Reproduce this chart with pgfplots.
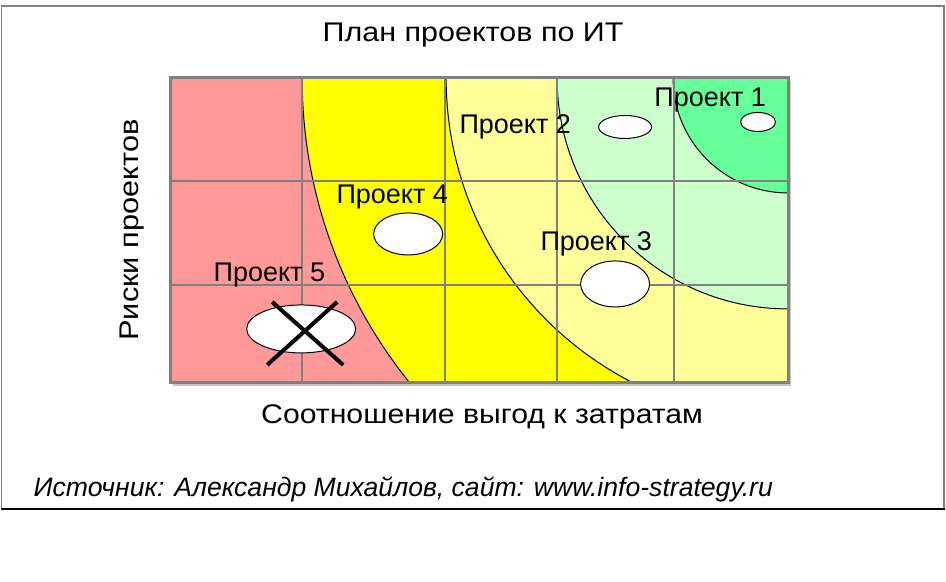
\documentclass[border=0pt]{standalone}
\usepackage{fontspec}
\setmainfont{Liberation Sans}
\usepackage{pgfplots}
\usepackage{pgfplotstable}
\pgfplotsset{compat=1.18}

\definecolor{zred}{HTML}{FF9999}
\definecolor{zyellow}{HTML}{FFFF00}
\definecolor{zlyellow}{HTML}{FFFF99}
\definecolor{zlgreen}{HTML}{CCFFCC}
\definecolor{zgreen}{HTML}{66FF99}
\definecolor{gridgray}{HTML}{808080}

% projects: centre, width and height of each oval (units = pixels of the original)
\pgfplotstableread{
x   y   w   h
758 122 35  19
625 127 53  23
615 284 69  46
408 234 69  42
301 329 109 48
}\projects

\pgfdeclareplotmark{oval}{%
  \pgfpathellipse{\pgfpointorigin}{\pgfqpoint{\ovalw pt}{0pt}}{\pgfqpoint{0pt}{\ovalh pt}}%
  \pgfusepathqfillstroke}

\newcommand{\lbl}{\fontsize{13.5}{16}\selectfont}

\begin{document}
\begin{tikzpicture}[x=0.5pt,y=-0.5pt]
\path (0,0) rectangle (946,582);
\draw[gridgray, line width=0.75pt] (1,509) -- (1,6) -- (944,6) -- (944,509);
\draw[black, line width=0.75pt] (0.5,509) -- (944.5,509);

\node[font=\lbl, anchor=base, xscale=1.13] at (473,42) {План проектов по ИТ};
\node[font=\lbl, anchor=base, xscale=1.12] at (482,424) {Соотношение выгод к затратам};
\node[font=\lbl, anchor=base, rotate=90, xscale=1.14] at (138,230) {Риски проектов};
\node[font=\fontsize{13.3}{16}\selectfont\itshape, anchor=base west, inner sep=0pt] at (33,497) {Источник: Александр Михайлов, сайт: www.info-strategy.ru};

% shadow of the plot frame
\fill[gray!45] (173,81) rectangle (791,386);

\begin{axis}[
    at={(170,383)}, anchor=south west,
    scale only axis, width=309pt, height=152.5pt,
    xmin=170, xmax=788, ymin=78, ymax=383, y dir=reverse,
    xtick=\empty, ytick=\empty,
    axis on top,
    clip marker paths=true,
    axis line style={draw=gridgray, line width=1.5pt},
]
    % zones: quarter circles round the top right corner
    \fill[zred] (axis cs:170,78) rectangle (axis cs:788,383);
    \filldraw[fill=zyellow, draw=black, line width=0.5pt] (axis cs:788,78) circle[radius=243pt];
    \filldraw[fill=zlyellow, draw=black, line width=0.5pt] (axis cs:788,78) circle[radius=171pt];
    \filldraw[fill=zlgreen, draw=black, line width=0.5pt] (axis cs:788,78) circle[radius=115.5pt];
    \filldraw[fill=zgreen, draw=black, line width=0.5pt] (axis cs:788,78) circle[radius=57.5pt];

    % grid
    \addplot[gridgray, line width=0.75pt, no marks] coordinates {(302,78) (302,383)};
    \addplot[gridgray, line width=0.75pt, no marks] coordinates {(445,78) (445,383)};
    \addplot[gridgray, line width=0.75pt, no marks] coordinates {(557,78) (557,383)};
    \addplot[gridgray, line width=0.75pt, no marks] coordinates {(674,78) (674,383)};
    \addplot[gridgray, line width=0.75pt, no marks] coordinates {(170,181) (788,181)};
    \addplot[gridgray, line width=0.75pt, no marks] coordinates {(170,285) (788,285)};

    % projects
    \addplot[scatter, only marks, mark=oval, line width=0.5pt,
        scatter/use mapped color={draw=black, fill=white},
        visualization depends on={\thisrow{w}/4 \as \ovalw},
        visualization depends on={\thisrow{h}/4 \as \ovalh}]
        table[x=x, y=y] {\projects};

    % project 5 crossed out
    \addplot[black, line width=2pt, no marks] coordinates {(267,365) (337,302)};
    \addplot[black, line width=2pt, no marks] coordinates {(272,302) (343,365)};

    \node[font=\lbl, anchor=base west, inner sep=0pt] at (axis cs:654,107) {Проект 1};
    \node[font=\lbl, anchor=base west, inner sep=0pt] at (axis cs:459,134) {Проект 2};
    \node[font=\lbl, anchor=base west, inner sep=0pt] at (axis cs:540,251) {Проект 3};
    \node[font=\lbl, anchor=base west, inner sep=0pt] at (axis cs:336,204) {Проект 4};
    \node[font=\lbl, anchor=base west, inner sep=0pt] at (axis cs:213,282) {Проект 5};
\end{axis}
\end{tikzpicture}
\end{document}
